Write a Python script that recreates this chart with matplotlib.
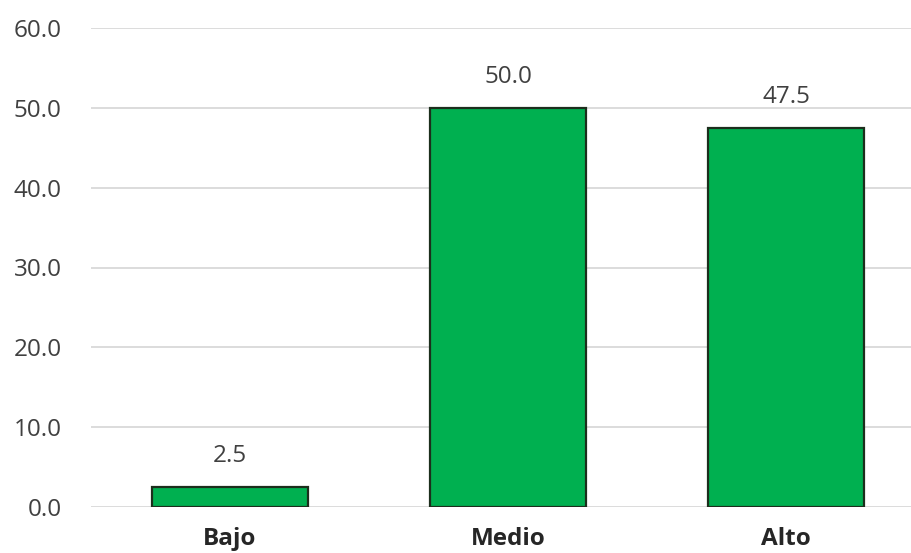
import matplotlib.pyplot as plt

# Datos
categorias = ['Bajo', 'Medio', 'Alto']
valores = [2.5, 50.0, 47.5]
ticks_y = [0, 10, 20, 30, 40, 50, 60]

plt.rcParams['font.family'] = ['Open Sans', 'DejaVu Sans']

fig = plt.figure(figsize=(9.12, 5.53), dpi=100)
ax = fig.add_axes([91 / 912, 1 - 507 / 553, 834 / 912, 479 / 553])

x = range(len(categorias))
barras = ax.bar(x, valores, width=0.56, color='#00B050', edgecolor='#1c2e1c',
                linewidth=1.6, zorder=3)

for xi, v in zip(x, valores):
    ax.text(xi, v + 2.4, f'{v:.1f}', ha='center', va='bottom',
            fontsize=17.5, color='#404040')

ax.set_xlim(-0.5, 2.5)
ax.set_ylim(0, 60)
ax.set_yticks(ticks_y)
ax.set_yticklabels([f'{t:.1f}' for t in ticks_y], fontsize=17.5, color='#404040')
ax.set_xticks(list(x))
ax.set_xticklabels(categorias, fontsize=17.5, fontweight='bold', color='#262626')
ax.tick_params(axis='both', length=0)
ax.tick_params(axis='y', pad=21)
ax.tick_params(axis='x', pad=14.5)
ax.grid(axis='y', color='#d9d9d9', linewidth=1.3, zorder=0)
for s in ax.spines.values():
    s.set_visible(False)

fig.savefig('out.png', dpi=100)
